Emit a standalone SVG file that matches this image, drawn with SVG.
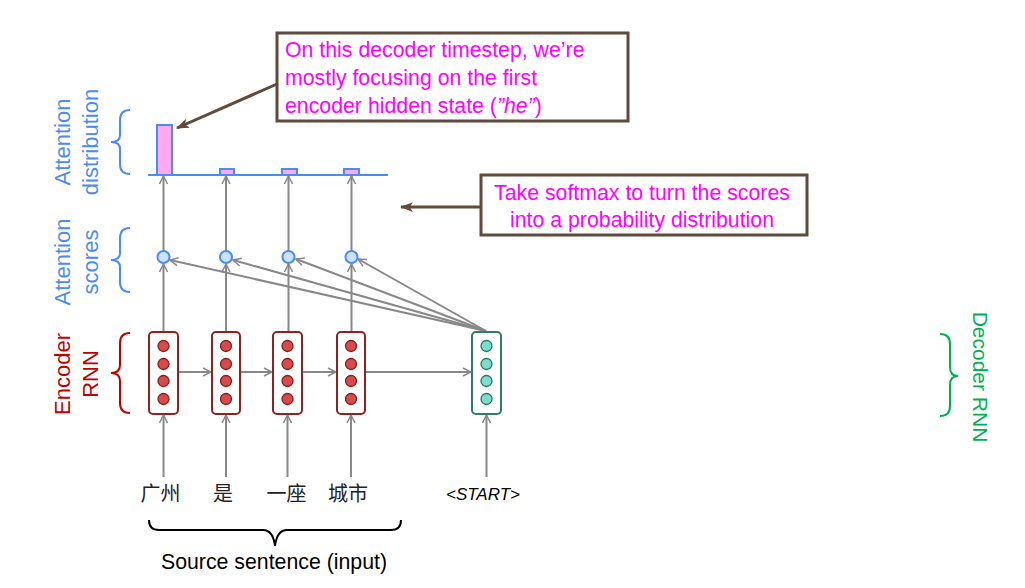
<svg xmlns="http://www.w3.org/2000/svg" width="1025" height="588" viewBox="0 0 1025 588">
<defs>
<marker id="ag" viewBox="0 0 10 10" refX="9" refY="5" markerWidth="10" markerHeight="10" markerUnits="userSpaceOnUse" orient="auto"><path d="M1,1 L9,5 L1,9" fill="none" stroke="#888" stroke-width="1.5"/></marker>
<marker id="ab" viewBox="0 0 12 10" refX="11" refY="5" markerWidth="13" markerHeight="11" markerUnits="userSpaceOnUse" orient="auto"><path d="M12,5 L0,0.5 L3,5 L0,9.5 Z" fill="#5E4B3C"/></marker>
<style>
.conn{stroke:#888;stroke-width:2;fill:none}
.enc{fill:#fff;stroke:#8B2323;stroke-width:2}
.ec{fill:#D64B4B;stroke:#8B1A1A;stroke-width:1.3}
.dec{fill:#fff;stroke:#2E7D6B;stroke-width:2}
.dc{fill:#7FDCCB;stroke:#1F7A66;stroke-width:1.3}
.sc{fill:#CFE2FB;stroke:#4A8CF0;stroke-width:2}
.bar{fill:#FFAAEE;stroke:#4A8CF0;stroke-width:2}
.call{fill:#fff;stroke:#5E4B3C;stroke-width:3}
.ct{font-family:"Liberation Sans",sans-serif;font-size:21.3px;fill:#FF00FF}
.blue{font-family:"Liberation Sans",sans-serif;font-size:22px;fill:#4A8CF0}
.br{fill:none;stroke-width:2}
.zh{font-family:"Noto Sans CJK SC",sans-serif;font-size:20px;fill:#222}
</style>
</defs>

<g id="labels">
<g id="attn-dist-label">
<text class="blue" transform="translate(70,142) rotate(-90)" text-anchor="middle">Attention</text>
<text class="blue" transform="translate(98,142) rotate(-90)" text-anchor="middle">distribution</text>
<path class="br" stroke="#4A8CF0" d="M130,110 Q120,110 120,120 L120,135 Q120,142 111,142 Q120,142 120,149 L120,164 Q120,174 130,174"/>
</g>
<g id="attn-scores-label">
<text class="blue" transform="translate(70,262) rotate(-90)" text-anchor="middle">Attention</text>
<text class="blue" transform="translate(98,262) rotate(-90)" text-anchor="middle">scores</text>
<path class="br" stroke="#4A8CF0" d="M130,228 Q120,228 120,238 L120,253 Q120,260 111,260 Q120,260 120,267 L120,282 Q120,292 130,292"/>
</g>
<g id="encoder-label">
<text transform="translate(70,374) rotate(-90)" text-anchor="middle" font-family="Liberation Sans,sans-serif" font-size="22" fill="#C00000">Encoder</text>
<text transform="translate(98,374) rotate(-90)" text-anchor="middle" font-family="Liberation Sans,sans-serif" font-size="22" fill="#C00000">RNN</text>
<path class="br" stroke="#C00000" d="M130,333 Q120,333 120,343 L120,365 Q120,373 111,373 Q120,373 120,381 L120,403 Q120,413 130,413"/>
</g>
<g id="decoder-label">
<text transform="translate(973,377) rotate(90)" text-anchor="middle" font-family="Liberation Sans,sans-serif" font-size="21" fill="#00B050">Decoder RNN</text>
<path class="br" stroke="#00B050" d="M940,334 Q950,334 950,344 L950,367 Q950,376 958,376 Q950,376 950,385 L950,406 Q950,416 940,416"/>
</g>
<g id="source-label">
<path fill="none" stroke="#000" stroke-width="2" d="M149,520 Q149,530 159,530 L263,530 Q273,530 275,546 Q277,530 287,530 L391,530 Q401,530 401,520"/>
<text x="274" y="569" text-anchor="middle" font-family="Liberation Sans,sans-serif" font-size="21.3" fill="#000">Source sentence (input)</text>
</g>
</g>

<g id="connectors">
<line class="conn" x1="163.5" y1="477" x2="163.5" y2="415" marker-end="url(#ag)"/>
<line class="conn" x1="226" y1="477" x2="226" y2="415" marker-end="url(#ag)"/>
<line class="conn" x1="287.5" y1="477" x2="287.5" y2="415" marker-end="url(#ag)"/>
<line class="conn" x1="351" y1="477" x2="351" y2="415" marker-end="url(#ag)"/>
<line class="conn" x1="486.5" y1="477" x2="486.5" y2="415" marker-end="url(#ag)"/>
<line class="conn" x1="178" y1="372" x2="211" y2="372" marker-end="url(#ag)"/>
<line class="conn" x1="240" y1="372" x2="272" y2="372" marker-end="url(#ag)"/>
<line class="conn" x1="302" y1="372" x2="336" y2="372" marker-end="url(#ag)"/>
<line class="conn" x1="365" y1="372" x2="471" y2="372" marker-end="url(#ag)"/>
<line class="conn" x1="163.5" y1="332" x2="163.5" y2="264" marker-end="url(#ag)"/>
<line class="conn" x1="226" y1="332" x2="226" y2="264" marker-end="url(#ag)"/>
<line class="conn" x1="288.5" y1="332" x2="288.5" y2="264" marker-end="url(#ag)"/>
<line class="conn" x1="351.5" y1="332" x2="351.5" y2="264" marker-end="url(#ag)"/>
<line class="conn" x1="163.5" y1="251" x2="163.5" y2="176" marker-end="url(#ag)"/>
<line class="conn" x1="226" y1="251" x2="226" y2="176" marker-end="url(#ag)"/>
<line class="conn" x1="288.5" y1="251" x2="288.5" y2="176" marker-end="url(#ag)"/>
<line class="conn" x1="351.5" y1="251" x2="351.5" y2="176" marker-end="url(#ag)"/>
<line class="conn" x1="486" y1="331" x2="170" y2="260" marker-end="url(#ag)"/>
<line class="conn" x1="486" y1="331" x2="233" y2="260" marker-end="url(#ag)"/>
<line class="conn" x1="486" y1="331" x2="296" y2="259" marker-end="url(#ag)"/>
<line class="conn" x1="486" y1="331" x2="358" y2="259" marker-end="url(#ag)"/>
<line x1="277" y1="84" x2="177" y2="128" stroke="#5E4B3C" stroke-width="3" marker-end="url(#ab)"/>
<line x1="480" y1="207" x2="401" y2="207" stroke="#5E4B3C" stroke-width="3" marker-end="url(#ab)"/>
</g>

<g id="attention-distribution">
<line x1="148" y1="175" x2="388" y2="175" stroke="#4A8CF0" stroke-width="2"/>
<rect class="bar" x="157" y="125" width="15" height="50"/>
<rect class="bar" x="220" y="169" width="14" height="6"/>
<rect class="bar" x="282" y="169" width="15" height="6"/>
<rect class="bar" x="344" y="169" width="15" height="6"/>
</g>

<g id="attention-scores">
<circle class="sc" cx="163.5" cy="257" r="6"/>
<circle class="sc" cx="226" cy="257" r="6"/>
<circle class="sc" cx="288.5" cy="257" r="6"/>
<circle class="sc" cx="351.5" cy="257" r="6"/>
</g>

<g id="enc1">
<rect class="enc" x="149" y="332" width="29" height="82" rx="4"/>
<circle class="ec" cx="163.5" cy="346" r="5.5"/><circle class="ec" cx="163.5" cy="364" r="5.5"/><circle class="ec" cx="163.5" cy="381" r="5.5"/><circle class="ec" cx="163.5" cy="399" r="5.5"/>
</g>
<g id="enc2">
<rect class="enc" x="212" y="332" width="28" height="82" rx="4"/>
<circle class="ec" cx="226" cy="346" r="5.5"/><circle class="ec" cx="226" cy="364" r="5.5"/><circle class="ec" cx="226" cy="381" r="5.5"/><circle class="ec" cx="226" cy="399" r="5.5"/>
</g>
<g id="enc3">
<rect class="enc" x="273" y="332" width="29" height="82" rx="4"/>
<circle class="ec" cx="287.5" cy="346" r="5.5"/><circle class="ec" cx="287.5" cy="364" r="5.5"/><circle class="ec" cx="287.5" cy="381" r="5.5"/><circle class="ec" cx="287.5" cy="399" r="5.5"/>
</g>
<g id="enc4">
<rect class="enc" x="337" y="332" width="28" height="82" rx="4"/>
<circle class="ec" cx="351" cy="346" r="5.5"/><circle class="ec" cx="351" cy="364" r="5.5"/><circle class="ec" cx="351" cy="381" r="5.5"/><circle class="ec" cx="351" cy="399" r="5.5"/>
</g>
<g id="dec1">
<rect class="dec" x="472" y="332" width="29" height="82" rx="4"/>
<circle class="dc" cx="486.5" cy="346" r="5.5"/><circle class="dc" cx="486.5" cy="364" r="5.5"/><circle class="dc" cx="486.5" cy="381" r="5.5"/><circle class="dc" cx="486.5" cy="399" r="5.5"/>
</g>

<g id="inputs">
<text class="zh" x="160.5" y="501" text-anchor="middle">广州</text>
<text class="zh" x="223" y="501" text-anchor="middle">是</text>
<text class="zh" x="286.5" y="501" text-anchor="middle">一座</text>
<text class="zh" x="348" y="501" text-anchor="middle">城市</text>
<text x="483" y="500" text-anchor="middle" font-family="Liberation Sans,sans-serif" font-size="17" font-style="italic" fill="#000">&lt;START&gt;</text>
</g>

<g id="callout1">
<rect class="call" x="277" y="33" width="351" height="88"/>
<text class="ct" x="285" y="57">On this decoder timestep, we’re</text>
<text class="ct" x="285" y="85">mostly focusing on the first</text>
<text class="ct" x="285" y="113">encoder hidden state (<tspan font-style="italic">”he”</tspan>)</text>
</g>
<g id="callout2">
<rect class="call" x="481" y="175" width="326" height="60"/>
<text class="ct" x="642" y="200" text-anchor="middle">Take softmax to turn the scores</text>
<text class="ct" x="642" y="227" text-anchor="middle">into a probability distribution</text>
</g>
</svg>
